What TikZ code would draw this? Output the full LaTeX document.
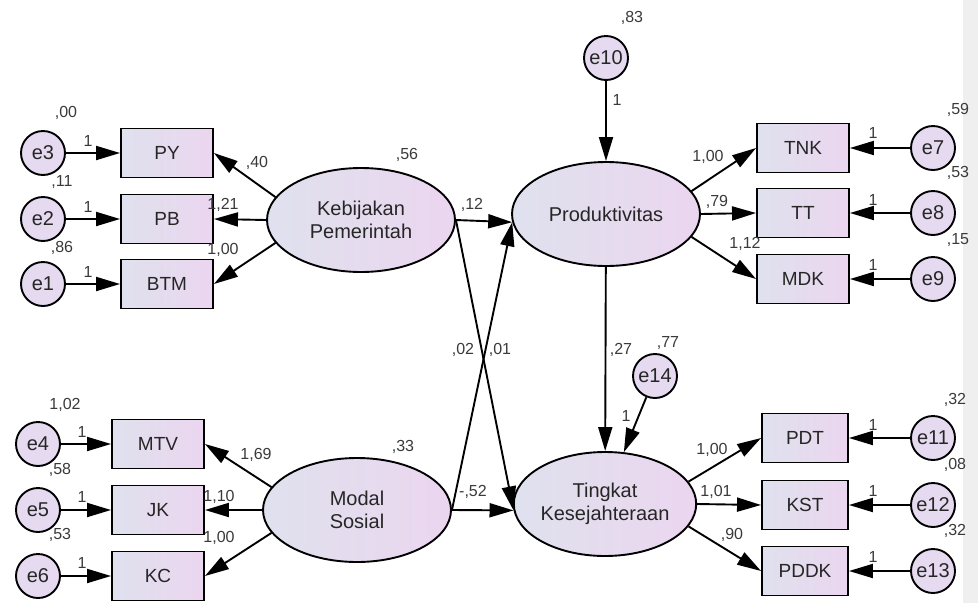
\documentclass[tikz,border=0pt]{standalone}
\usepackage{fontspec}
\setmainfont{Liberation Sans}
\usepackage{tikz}
\usetikzlibrary{arrows.meta,shapes.geometric}
\definecolor{ink}{HTML}{262626}
\definecolor{lbl}{HTML}{3A3A3A}
\definecolor{boxl}{HTML}{DFE1EE}
\definecolor{boxr}{HTML}{EBD6EF}
\definecolor{errfill}{HTML}{E6DAF1}
\definecolor{strip}{HTML}{EFEFEF}

\begin{document}
\begin{tikzpicture}[-{Triangle[length=24pt,width=14pt]},line width=1.9pt,x=1pt,y=-1pt]
      \tikzstyle{every node}=[text=ink,font=\fontsize{20}{23}\selectfont]
      \tikzstyle{err}=[draw,shape=circle,minimum size=44pt,inner sep=0pt,fill=errfill]
      \tikzstyle{obs}=[draw,shape=rectangle,minimum width=92pt,minimum height=49pt,inner sep=0pt,left color=boxl,right color=boxr,font=\fontsize{19}{19}\selectfont]
      \tikzstyle{lat}=[draw,shape=ellipse,minimum width=188pt,minimum height=104pt,inner sep=0pt,left color=boxl,right color=boxr,align=center]
      \tikzstyle{est}=[inner sep=0pt,text=lbl,font=\fontsize{16}{16}\selectfont]

      \useasboundingbox (0,0) rectangle (978,603);
      \fill[strip] (963,0) rectangle (978,603);

      % Kebijakan Pemerintah
      \node[err] (e3) at (43,153) {e3};
      \node[err] (e2) at (43,219) {e2};
      \node[err] (e1) at (43,284) {e1};
      \node[obs] (py) at (167,153) {PY};
      \node[obs] (pb) at (167,219) {PB};
      \node[obs] (btm) at (167,284) {BTM};
      \node[lat] (keb) at (361,220) {Kebijakan\\Pemerintah};

      % Modal Sosial
      \node[err] (e4) at (38,444) {e4};
      \node[err] (e5) at (38,510) {e5};
      \node[err] (e6) at (38,576) {e6};
      \node[obs] (mtv) at (158,444) {MTV};
      \node[obs] (jk) at (158,510) {JK};
      \node[obs] (kc) at (158,576) {KC};
      \node[lat] (modal) at (357,510) {Modal\\Sosial};

      % Produktivitas
      \node[err] (e10) at (606,58) {e10};
      \node[lat] (prod) at (606,214) {Produktivitas};
      \node[obs] (tnk) at (803,148) {TNK};
      \node[obs] (tt) at (803,213) {TT};
      \node[obs] (mdk) at (803,279) {MDK};
      \node[err] (e7) at (933,148) {e7};
      \node[err] (e8) at (933,213) {e8};
      \node[err] (e9) at (933,279) {e9};

      % Tingkat Kesejahteraan
      \node[err] (e14) at (655,376) {e14};
      \node[lat,minimum width=182pt] (ting) at (605,504) {Tingkat\\Kesejahteraan};
      \node[obs,minimum width=86pt] (pdt) at (805,438) {PDT};
      \node[obs,minimum width=86pt] (kst) at (805,505) {KST};
      \node[obs,minimum width=86pt] (pddk) at (805,571) {PDDK};
      \node[err] (e11) at (933,438) {e11};
      \node[err] (e12) at (933,505) {e12};
      \node[err] (e13) at (933,571) {e13};

      % estimates
      \node[est] (ve3) at (66,113) {,00};
      \node[est] (ve2) at (62,182) {,11};
      \node[est] (ve1) at (62,248) {,86};
      \node[est] (w3) at (88,141) {1};
      \node[est] (w2) at (88,207) {1};
      \node[est] (w1) at (88,272) {1};
      \node[est] (wpy) at (257,163) {,40};
      \node[est] (wpb) at (223,205) {1,21};
      \node[est] (wbtm) at (223,250) {1,00};
      \node[est] (vkeb) at (407,155) {,56};
      \node[est] (wkp) at (472,205) {,12};

      \node[est] (ve4) at (65,405) {1,02};
      \node[est] (ve5) at (60,470) {,58};
      \node[est] (ve6) at (60,535) {,53};
      \node[est] (w4) at (82,432) {1};
      \node[est] (w5) at (82,497) {1};
      \node[est] (w6) at (82,563) {1};
      \node[est] (wmtv) at (256,455) {1,69};
      \node[est] (wjk) at (219,497) {1,10};
      \node[est] (wkc) at (219,538) {1,00};
      \node[est] (vmodal) at (403,447) {,33};
      \node[est] (wmt) at (473,492) {-,52};
      \node[est] (wmp) at (463,350) {,02};
      \node[est] (wkt) at (500,350) {,01};

      \node[est] (ve10) at (632,18) {,83};
      \node[est] (w10) at (617,100) {1};
      \node[est] (wtnk) at (708,157) {1,00};
      \node[est] (wtt) at (717,202) {,79};
      \node[est] (wmdk) at (745,244) {1,12};
      \node[est] (ve7) at (958,110) {,59};
      \node[est] (ve8) at (958,173) {,53};
      \node[est] (ve9) at (958,240) {,15};
      \node[est] (w7) at (873,133) {1};
      \node[est] (w8) at (873,200) {1};
      \node[est] (w9) at (873,265) {1};

      \node[est] (wpt) at (621,350) {,27};
      \node[est] (ve14) at (668,343) {,77};
      \node[est] (w14) at (626,416) {1};
      \node[est] (wpdt) at (712,450) {1,00};
      \node[est] (wkst) at (716,492) {1,01};
      \node[est] (wpddk) at (732,535) {,90};
      \node[est] (ve11) at (955,400) {,32};
      \node[est] (ve12) at (955,465) {,08};
      \node[est] (ve13) at (955,531) {,32};
      \node[est] (w11) at (873,425) {1};
      \node[est] (w12) at (873,491) {1};
      \node[est] (w13) at (873,557) {1};

      \draw (e3) -- (py);
      \draw (e2) -- (pb);
      \draw (e1) -- (btm);

      \draw (keb.165) -- (py.east);
      \draw (keb.west) -- (pb.east);
      \draw (keb.195) -- (btm.east);

      \draw (e4) -- (mtv);
      \draw (e5) -- (jk);
      \draw (e6) -- (kc);

      \draw (modal.165) -- (mtv.east);
      \draw (modal.west) -- (jk.east);
      \draw (modal.195) -- (kc.east);

      \draw (keb.east) -- (prod.185);
      \draw (keb.east) -- (ting.184);
      \draw (modal.east) -- (prod.185);
      \draw (modal.east) -- (ting.184);

      \draw (e10) -- (prod);
      \draw (prod) -- (ting);
      \draw (e14) -- (ting.70);

      \draw (prod.15) -- (tnk.west);
      \draw (prod.east) -- (tt.west);
      \draw (prod.-15) -- (mdk.west);

      \draw (e7) -- (tnk);
      \draw (e8) -- (tt);
      \draw (e9) -- (mdk);

      \draw (ting.15) -- (pdt.west);
      \draw (ting.east) -- (kst.west);
      \draw (ting.-15) -- (pddk.west);

      \draw (e11) -- (pdt);
      \draw (e12) -- (kst);
      \draw (e13) -- (pddk);

    \end{tikzpicture}
\end{document}
